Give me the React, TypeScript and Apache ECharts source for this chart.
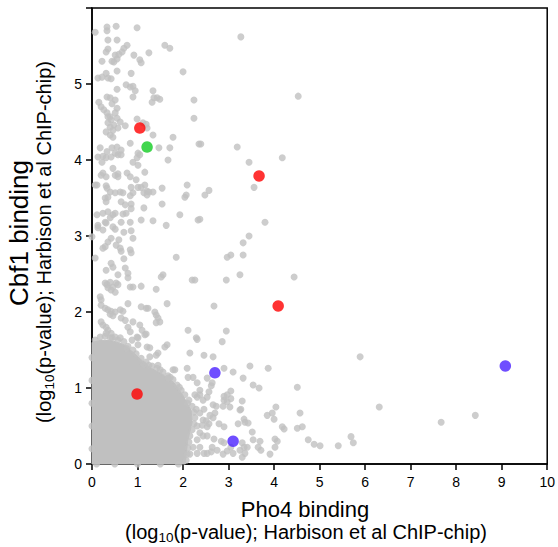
import React, { useEffect, useRef } from 'react';
import * as echarts from 'echarts';

const FONT = '"Liberation Sans", Arial, Helvetica, sans-serif';
const GRAY = '#c0c0c0';

const xTickValues = [0, 1, 2, 3, 4, 5, 6, 7, 8, 9, 10];
const yTickLabels = ['0', '1', '2', '3', '4', '5', ''];

const redPoints = [[1.05, 4.42], [3.67, 3.79], [4.09, 2.08], [0.99, 0.92]];
const greenPoints = [[1.21, 4.17]];
const bluePoints = [[2.7, 1.2], [3.1, 0.3], [9.08, 1.29]];

// outline of the solid, over-plotted cloud of genes near the origin
const denseCore = [
  [0.0, 0.0], [0.0, 1.6], [0.2, 1.63], [0.45, 1.62], [0.7, 1.57], [0.9, 1.47],
  [1.1, 1.36], [1.3, 1.26], [1.55, 1.18], [1.8, 1.07], [2.0, 0.9], [2.18, 0.7],
  [2.2, 0.55], [2.1, 0.3], [2.05, 0.0],
];

// edge of the cloud
const cloudEdge = [
  [0.07, 1.63], [0.18, 1.67], [0.29, 1.68], [0.44, 1.66], [0.57, 1.63], [0.7, 1.61], [0.79, 1.55],
  [0.9, 1.5], [0.97, 1.45], [1.08, 1.39], [1.19, 1.34], [1.32, 1.29], [1.43, 1.26], [1.56, 1.21],
  [1.67, 1.16], [1.78, 1.11], [1.87, 1.04], [1.96, 0.97], [2.04, 0.91], [2.13, 0.84], [2.2, 0.76],
  [2.24, 0.68], [2.26, 0.61], [2.24, 0.53], [2.2, 0.45], [2.15, 0.37], [2.13, 0.29], [2.11, 0.21],
  [2.09, 0.13], [2.07, 0.05], [0.0, 0.2], [0.0, 0.5], [0.0, 0.8], [0.0, 1.1], [0.0, 1.4],
  [0.1, 0.0], [0.5, 0.0], [1.0, 0.0], [1.5, 0.0], [1.9, 0.0],
  [0.62, 1.66], [0.76, 1.52], [1.13, 1.31], [1.5, 1.24], [1.92, 1.01], [2.29, 0.72], [2.31, 0.5],
  [2.22, 0.22], [1.25, 1.3], [1.72, 1.14], [2.1, 0.8],
];

const grayPoints = [
  // upper left column
  [0.07, 5.68], [0.33, 5.75], [0.33, 5.7], [0.53, 5.76], [0.99, 5.74], [0.35, 5.58], [0.55, 5.58],
  [0.77, 5.51], [0.7, 5.47], [0.66, 5.42], [0.59, 5.39], [0.35, 5.46], [0.31, 5.42], [0.51, 5.38],
  [0.55, 5.33], [0.48, 5.29], [0.92, 5.38], [1.05, 5.32], [1.08, 5.28], [1.25, 5.41], [1.6, 5.51],
  [1.71, 5.47], [0.44, 5.3], [0.22, 5.3], [0.55, 5.17], [0.86, 5.14], [2.0, 5.16], [0.13, 5.08],
  [0.22, 5.09], [0.31, 5.14], [0.35, 5.08], [0.42, 5.07], [0.75, 4.99], [0.84, 4.96], [0.9, 4.97],
  [0.95, 4.91], [0.9, 4.83], [0.55, 4.93], [1.34, 4.91], [1.43, 4.82], [1.49, 4.8], [0.33, 4.83],
  [0.4, 4.82], [0.51, 4.79], [0.15, 4.76], [0.2, 4.7], [0.26, 4.66], [0.33, 4.62], [0.4, 4.57],
  [0.44, 4.74], [0.55, 4.68], [0.51, 4.62], [0.55, 4.55], [0.48, 4.46], [0.57, 4.42], [0.99, 4.54],
  [1.19, 4.47], [1.21, 4.42], [1.32, 4.76], [1.36, 4.82], [2.24, 4.79], [2.24, 4.55], [1.78, 4.3],
  [2.35, 4.21], [0.73, 4.45], [1.34, 4.33], [1.01, 4.09], [0.99, 4.03], [0.9, 3.97], [1.67, 4.0],
  [1.47, 4.16], [1.71, 4.16], [0.18, 4.16], [0.13, 4.04], [0.22, 3.97], [0.33, 4.11], [0.44, 4.16],
  [0.55, 4.17], [0.46, 3.89], [0.51, 3.8], [0.57, 3.82], [0.24, 3.83], [0.31, 3.78], [0.77, 3.83],
  [1.16, 3.84], [0.97, 3.74], [1.01, 3.64], [1.16, 3.67], [1.21, 3.59], [1.14, 3.57], [1.34, 3.58],
  [1.54, 3.63], [2.09, 3.67], [0.11, 3.67], [0.33, 3.63], [0.4, 3.58], [0.51, 3.57], [0.62, 3.58],
  [0.84, 3.53], [0.9, 3.57], [0.35, 4.57], [0.42, 4.53], [0.35, 4.49], [0.4, 4.43], [0.46, 4.39],
  [0.31, 4.37], [0.4, 4.33], [0.46, 4.3], [0.62, 4.5], [1.12, 4.49], [0.84, 4.22], [0.64, 4.13],
  [0.51, 4.09], [0.24, 4.05], [0.31, 4.03], [0.42, 4.04], [0.57, 4.07], [0.64, 4.07], [1.05, 4.07],
  [1.01, 3.93], [0.57, 3.78], [0.2, 3.8], [0.84, 3.78], [0.07, 3.67], [0.31, 3.66], [0.68, 3.57],
  [0.86, 3.64], [1.08, 3.64], [1.25, 3.58], [1.21, 3.54], [2.04, 3.51], [2.07, 3.54], [0.35, 3.51],
  [0.29, 3.5], [0.31, 3.45], [0.64, 3.45], [0.73, 3.41], [0.86, 3.42], [1.14, 3.37], [1.54, 3.42],
  [0.11, 3.28], [0.24, 3.3], [0.35, 3.32], [0.46, 3.28], [0.51, 3.3], [0.4, 3.24], [0.29, 3.18],
  [0.68, 3.29], [0.75, 3.3], [0.86, 3.36], [1.08, 3.21], [1.34, 3.2], [1.63, 3.14], [1.93, 3.28],
  [2.33, 3.21], [0.13, 3.14], [0.31, 3.17], [0.46, 3.12], [0.64, 3.18], [0.84, 3.18],
  [0.13, 3.11], [0.24, 3.08], [0.51, 3.09], [0.7, 3.05], [0.86, 3.07], [0.0, 2.99], [0.42, 2.97],
  [0.35, 2.92], [0.29, 2.86], [0.24, 2.84], [0.59, 2.95], [0.9, 2.97], [0.53, 2.88], [0.62, 2.84],
  [0.64, 2.8], [0.84, 2.82], [0.86, 2.78], [0.07, 2.71], [0.7, 2.7], [1.85, 2.72], [0.42, 2.64],
  [0.46, 2.59], [0.31, 2.55], [0.73, 2.58], [0.79, 2.51], [0.79, 2.45], [0.57, 2.49], [1.56, 2.49],
  [1.52, 2.46], [2.2, 2.42], [0.29, 2.38], [0.33, 2.36], [0.35, 2.32], [0.42, 2.29], [0.51, 2.26],
  [0.46, 2.33], [0.4, 2.39], [0.53, 2.38], [0.57, 2.36], [0.84, 2.33], [0.9, 2.33], [1.08, 2.34],
  [1.41, 2.3], [0.18, 2.2], [0.2, 2.16], [0.2, 2.09], [0.29, 2.05], [0.35, 2.03], [0.42, 2.01],
  [0.51, 2.0], [0.62, 2.03], [0.68, 2.01], [0.79, 2.11], [1.08, 2.07], [1.19, 2.05], [1.23, 2.05],
  [1.65, 2.11], [0.4, 1.97], [0.46, 1.95], [0.64, 1.92], [0.73, 1.89], [1.38, 2.0], [1.41, 1.96],
  [1.45, 1.92], [1.49, 1.87], [1.41, 1.86], [0.2, 1.87], [0.24, 1.83], [0.31, 1.8], [0.35, 1.76],
  [0.42, 1.72], [0.51, 1.67], [0.31, 1.72], [0.4, 1.66], [0.79, 1.8], [0.84, 1.74], [1.19, 1.71],
  [1.01, 1.66], [2.11, 1.76], [2.29, 1.66], [2.31, 1.64],
  // just above / right of the cloud
  [1.05, 1.83], [1.1, 1.76], [0.9, 1.87], [1.16, 1.7], [0.88, 1.63], [0.99, 1.67], [1.21, 1.54],
  [1.27, 1.53], [1.65, 1.57], [1.45, 1.46], [1.01, 1.57], [1.27, 1.41], [1.41, 1.43], [1.6, 1.54],
  [1.45, 1.3], [1.82, 1.24], [1.67, 1.13], [1.78, 1.24], [2.15, 1.46], [2.09, 1.26], [2.22, 1.14],
  [2.31, 1.07], [2.11, 1.14], [2.26, 0.91], [2.37, 0.97], [2.31, 0.88], [2.44, 0.84], [2.53, 0.88],
  [2.66, 0.78], [2.9, 0.84], [2.97, 0.91], [2.88, 0.76], [2.7, 0.67], [3.25, 0.71], [3.36, 0.55],
  [3.52, 0.42], [2.37, 0.67], [2.44, 0.58], [2.53, 0.49], [2.31, 0.32], [2.37, 0.22], [2.53, 0.14],
  [2.64, 0.22], [2.75, 0.18], [3.1, 0.14], [3.25, 0.18], [3.3, 0.09], [3.41, 0.22], [3.54, 0.32],
  [2.15, 0.13], [2.31, 0.14], [2.64, 1.07],
  // middle and right
  [3.27, 5.62], [4.53, 4.84], [2.39, 4.21], [3.19, 4.17], [3.45, 3.97], [4.18, 4.03], [3.56, 3.64],
  [2.48, 3.54], [2.57, 3.6], [2.37, 3.22], [3.8, 3.18], [3.45, 3.0], [3.32, 2.91], [2.97, 2.72],
  [3.05, 2.75], [3.32, 2.75], [2.26, 2.42], [2.95, 2.42], [3.25, 2.49], [4.44, 2.46], [2.68, 2.08],
  [2.95, 1.75], [2.86, 1.61], [2.46, 1.43], [2.66, 1.41], [5.89, 1.41], [2.9, 1.26], [3.1, 1.21],
  [3.47, 1.29], [3.87, 1.26], [2.53, 1.13], [3.32, 1.13], [2.62, 1.03], [3.54, 1.04], [3.67, 1.0],
  [4.51, 1.01], [2.57, 0.95], [2.37, 0.91], [2.9, 0.89], [3.05, 0.96], [2.97, 0.82], [3.05, 0.86],
  [3.3, 0.83], [2.73, 0.76], [3.03, 0.75], [3.27, 0.72], [4.04, 0.75], [6.31, 0.75], [2.46, 0.72],
  [4.57, 0.67], [3.85, 0.64], [3.96, 0.67], [4.0, 0.59], [8.42, 0.64], [7.67, 0.55], [2.59, 0.64],
  [2.66, 0.61], [2.51, 0.57], [2.57, 0.53], [2.42, 0.51], [2.79, 0.53], [3.21, 0.53], [3.34, 0.59],
  [3.43, 0.54], [4.18, 0.49], [4.22, 0.46], [4.51, 0.47], [4.62, 0.49], [2.9, 0.49], [2.37, 0.41],
  [2.44, 0.37], [2.53, 0.37], [2.68, 0.33], [2.84, 0.3], [2.9, 0.28], [3.3, 0.28], [3.34, 0.22],
  [3.36, 0.14], [3.69, 0.3], [3.71, 0.18], [3.65, 0.22], [3.91, 0.13], [4.02, 0.33], [4.07, 0.3],
  [4.02, 0.22], [4.75, 0.32], [4.88, 0.26], [5.01, 0.24], [5.41, 0.24], [5.69, 0.36], [5.74, 0.28],
  [2.88, 0.13], [2.97, 0.17], [2.62, 0.16], [2.46, 0.14], [3.05, 0.22],
];

export default function App() {
  const ref = useRef<HTMLDivElement>(null);

  useEffect(() => {
    if (!ref.current) return;
    const chart = echarts.init(ref.current, null, { renderer: 'svg' });

    const titleRich = {
      sub: { fontSize: 13.5, fontFamily: FONT, color: '#000', verticalAlign: 'bottom', lineHeight: 14 },
    };

    chart.setOption({
      animation: false,
      backgroundColor: '#fff',
      grid: {
        left: 92, right: 10, top: 8, bottom: 83,
        show: true, borderColor: '#000', borderWidth: 1.5, backgroundColor: 'transparent',
      },
      xAxis: {
        type: 'value', min: 0, max: 10, interval: 1,
        axisLine: { show: true, onZero: false, lineStyle: { color: '#000', width: 1.5 } },
        axisTick: { show: true, length: 6, lineStyle: { color: '#000', width: 1.5 } },
        axisLabel: {
          color: '#000', fontSize: 14, fontFamily: FONT, margin: 11,
          formatter: (v: number) => (xTickValues.includes(v) ? String(v) : ''),
        },
        splitLine: { show: false },
      },
      yAxis: {
        type: 'value', min: 0, max: 6, interval: 1,
        axisLine: { show: true, onZero: false, lineStyle: { color: '#000', width: 1.5 } },
        axisTick: { show: true, length: 6, lineStyle: { color: '#000', width: 1.5 } },
        axisLabel: {
          color: '#000', fontSize: 14, fontFamily: FONT, margin: 10,
          formatter: (v: number) => yTickLabels[Math.round(v)] ?? '',
        },
        splitLine: { show: false },
      },
      graphic: [
        {
          type: 'text', x: 305, y: 509, z: 10,
          style: { text: 'Pho4 binding', fontSize: 22, fontFamily: FONT, fill: '#000', align: 'center', verticalAlign: 'middle' },
        },
        {
          type: 'text', x: 306, y: 532, z: 10,
          style: {
            text: '(log{sub|10}(p-value); Harbison et al ChIP-chip)',
            fontSize: 20, fontFamily: FONT, fill: '#000', align: 'center', verticalAlign: 'middle',
            lineHeight: 25, rich: titleRich,
          },
        },
        {
          type: 'text', x: 19, y: 233, rotation: Math.PI / 2, z: 10,
          style: { text: 'Cbf1 binding', fontSize: 26, fontFamily: FONT, fill: '#000', align: 'center', verticalAlign: 'middle' },
        },
        {
          type: 'text', x: 44, y: 242, rotation: Math.PI / 2, z: 10,
          style: {
            text: '(log{sub|10}(p-value); Harbison et al ChIP-chip)',
            fontSize: 20, fontFamily: FONT, fill: '#000', align: 'center', verticalAlign: 'middle',
            lineHeight: 25, rich: titleRich,
          },
        },
      ],
      series: [
        {
          type: 'custom', name: 'cloud', z: 1, clip: false,
          data: [[0, 0]],
          renderItem: (_params: any, api: any) => ({
            type: 'polygon',
            shape: { points: denseCore.map((p) => api.coord(p)) },
            style: { fill: GRAY, stroke: GRAY, lineWidth: 1 },
          }),
          silent: true,
        },
        {
          type: 'scatter', name: 'cloud edge', z: 2, clip: false, symbol: 'circle', symbolSize: 7,
          itemStyle: { color: GRAY }, data: cloudEdge, silent: true,
        },
        {
          type: 'scatter', name: 'genes', z: 2, clip: false, symbol: 'circle', symbolSize: 7,
          itemStyle: { color: GRAY }, data: grayPoints, silent: true,
        },
        {
          type: 'scatter', name: 'red', z: 5, clip: false, symbol: 'circle', symbolSize: 11.5,
          itemStyle: { color: '#ff0000' }, data: redPoints, silent: true,
        },
        {
          type: 'scatter', name: 'green', z: 5, clip: false, symbol: 'circle', symbolSize: 11.5,
          itemStyle: { color: '#11cc22' }, data: greenPoints, silent: true,
        },
        {
          type: 'scatter', name: 'blue', z: 5, clip: false, symbol: 'circle', symbolSize: 11.5,
          itemStyle: { color: '#4b22ff' }, data: bluePoints, silent: true,
        },
      ],
    });

    return () => chart.dispose();
  }, []);

  return <div ref={ref} style={{ position: 'fixed', left: 0, top: 0, width: 558, height: 547 }} />;
}
